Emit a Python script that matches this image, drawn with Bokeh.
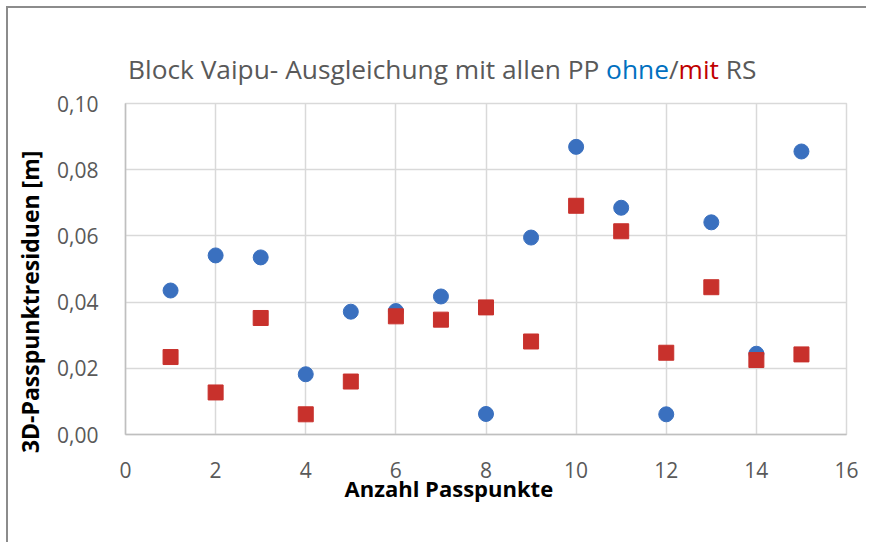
from bokeh.plotting import figure
from bokeh.models import Range1d, FixedTicker, CustomJSTickFormatter, Div
from bokeh.layouts import column
from bokeh.embed import file_html
from bokeh.resources import INLINE

# ---- data ----
anzahl = [1, 2, 3, 4, 5, 6, 7, 8, 9, 10, 11, 12, 13, 14, 15]
ohne_rs = [0.0435, 0.0541, 0.0535, 0.0182, 0.0371, 0.0373, 0.0417, 0.0062,
           0.0595, 0.0869, 0.0685, 0.0061, 0.0641, 0.0244, 0.0855]
mit_rs = [0.0234, 0.0127, 0.0352, 0.0061, 0.0160, 0.0357, 0.0347, 0.0384,
          0.0281, 0.0691, 0.0614, 0.0247, 0.0445, 0.0225, 0.0242]
x_ticks = [0, 2, 4, 6, 8, 10, 12, 14, 16]
y_ticks = [0.00, 0.02, 0.04, 0.06, 0.08, 0.10]

title_html = ('Block Vaipu- Ausgleichung mit allen PP '
              '<span style="color:#0070C0">ohne</span>/'
              '<span style="color:#C00000">mit</span> RS')
x_title = "Anzahl Passpunkte"
y_title = "3D-Passpunktresiduen [m]"

NB = "\u00a0"
FRAME_GRAY = "#8c8c8c"

# ---- layout ----
W, H = 860, 536
BL, BR, BT, BB = 125, 14, 103, H - 434

title = Div(text=('<div style="padding:51px 0 0 128px; font-family:\'Open Sans\'; '
                  'font-size:26.3px; line-height:36px; color:#595959; white-space:nowrap;">'
                  + title_html + '</div>'),
            width=700, height=90, margin=(0, 0, 0, 0),
            styles={"position": "absolute", "left": "0px", "top": "0px", "z-index": "5"})

chart_border = Div(text="", width=865, height=538, margin=(0, 0, 0, 0),
                   styles={"position": "absolute", "left": "6px", "top": "6px",
                           "z-index": "4", "pointer-events": "none",
                           "box-sizing": "border-box",
                           "border-top": "2px solid " + FRAME_GRAY,
                           "border-left": "2px solid " + FRAME_GRAY})

p = figure(width=W, height=H, output_backend="svg", toolbar_location=None,
           x_range=Range1d(0, 16), y_range=Range1d(0, 0.10),
           min_border_left=BL, min_border_right=BR, min_border_top=BT, min_border_bottom=BB,
           margin=(0, 0, 0, 0))
p.background_fill_color = "white"
p.border_fill_color = "white"
p.outline_line_color = "#d9d9d9"
p.outline_line_width = 1.5

for ax in (p.xaxis[0], p.yaxis[0]):
    ax.major_tick_line_color = None
    ax.minor_tick_line_color = None
    ax.axis_line_color = "#bfbfbf"
    ax.axis_line_width = 1.5
    ax.major_label_text_font = "Open Sans"
    ax.major_label_text_font_size = "21px"
    ax.major_label_text_color = "#595959"
    ax.axis_label_text_font = "Open Sans"
    ax.axis_label_text_font_style = "bold"
    ax.axis_label_text_color = "black"

p.xaxis.ticker = FixedTicker(ticks=x_ticks)
p.yaxis.ticker = FixedTicker(ticks=y_ticks)
p.xaxis.major_label_standoff = 21
p.yaxis.major_label_standoff = 21
p.yaxis.formatter = CustomJSTickFormatter(code="return tick.toFixed(2).replace('.', ',');")
p.xaxis.formatter = CustomJSTickFormatter(code="return tick.toFixed(0);")

p.xaxis.axis_label = x_title + NB * 13
p.xaxis.axis_label_text_font_size = "22px"
p.xaxis.axis_label_standoff = -8
p.yaxis.axis_label = y_title + NB * 11
p.yaxis.axis_label_text_font_size = "23px"
p.yaxis.axis_label_standoff = 8

p.xgrid.ticker = FixedTicker(ticks=x_ticks)
p.ygrid.ticker = FixedTicker(ticks=y_ticks)
p.grid.grid_line_color = "#d9d9d9"
p.grid.grid_line_width = 1.5

p.scatter(anzahl, ohne_rs, marker="circle", size=15, fill_color="#3A70BF", line_color="#3A70BF")
p.scatter(anzahl, mit_rs, marker="square", size=15, fill_color="#C8312C", line_color="#C8312C")

layout = column(title, chart_border, p, spacing=0, margin=(0, 0, 0, 0))

open("out.html", "w").write(file_html(layout, INLINE))
